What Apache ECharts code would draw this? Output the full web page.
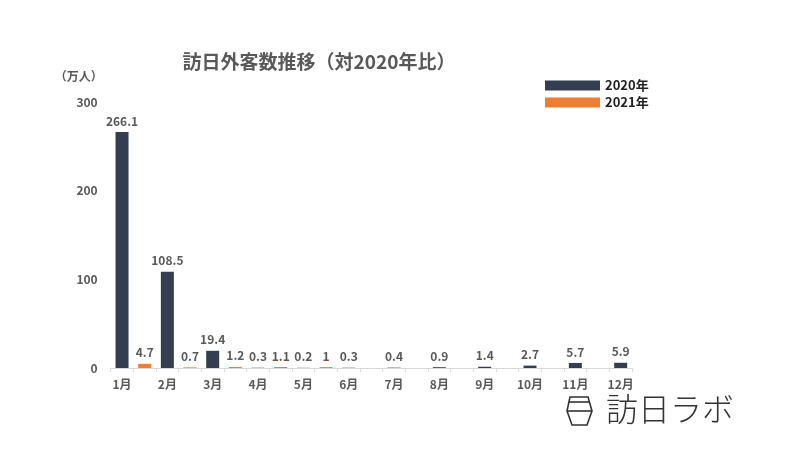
<!DOCTYPE html>
<html><head><meta charset="utf-8">
<script src="https://cdn.jsdelivr.net/npm/echarts@6/dist/echarts.min.js"></script>
<style>html,body{margin:0;background:#fff}#c{width:800px;height:450px}</style>
</head><body><div id="c"></div>
<script>
const months = ['1月','2月','3月','4月','5月','6月','7月','8月','9月','10月','11月','12月'];
const values2020 = [266.1,108.5,19.4,0.3,0.2,0.3,0.4,0.9,1.4,2.7,5.7,5.9];
const values2021 = [4.7,0.7,1.2,1.1,1,null,null,null,null,null,null];
const yTicks = [0,100,200,300];

const slots = [], s2020 = [], s2021 = [];
months.forEach((m, i) => {
  slots.push(m); s2020.push(values2020[i]); s2021.push('-');
  if (i < values2021.length) {
    slots.push(m + ' 2021');
    s2020.push('-');
    s2021.push(values2021[i] == null ? '-' : values2021[i]);
  }
});

const FONT = '"Noto Sans CJK JP", "Noto Sans", sans-serif';
const TXT = '#595959';
const chart = echarts.init(document.getElementById('c'), null, {renderer: 'canvas'});
const labelStyle = {show: true, position: 'top', distance: 5, color: TXT, fontWeight: 'bold', fontSize: 12, fontFamily: FONT};
chart.setOption({
  backgroundColor: '#fff',
  animation: false,
  title: {
    text: '訪日外客数推移（対2020年比）',
    left: 314, top: 47, textAlign: 'center',
    textStyle: {color: TXT, fontSize: 19, fontWeight: 'bold', fontFamily: FONT}
  },
  legend: {
    orient: 'vertical', left: 540, top: 74, itemWidth: 55, itemHeight: 10, itemGap: 4,
    icon: 'rect',
    textStyle: {color: '#222', fontWeight: 'bold', fontSize: 13, fontFamily: FONT},
    data: ['2020年', '2021年']
  },
  grid: {left: 110.7, right: 168, top: 102, bottom: 82},
  xAxis: {
    type: 'category', data: slots,
    axisLine: {lineStyle: {color: '#d9d9d9'}},
    axisTick: {show: true, interval: 0, length: 4, lineStyle: {color: '#d9d9d9'}},
    axisLabel: {interval: 1, color: TXT, fontWeight: 'bold', fontSize: 12, fontFamily: FONT, margin: 10}
  },
  yAxis: {
    type: 'value', min: yTicks[0], max: yTicks[yTicks.length - 1], interval: 100,
    name: '（万人）', nameLocation: 'end', nameGap: 20,
    nameTextStyle: {color: TXT, fontWeight: 'bold', fontSize: 12, fontFamily: FONT, align: 'right', padding: [0, 8, 0, 0]},
    axisLine: {show: false}, axisTick: {show: false},
    splitLine: {show: false},
    axisLabel: {color: TXT, fontWeight: 'bold', fontSize: 12, fontFamily: FONT, margin: 13}
  },
  series: [
    {name: '2020年', type: 'bar', data: s2020, barWidth: 13, barGap: '-100%',
     itemStyle: {color: '#333F50'}, label: labelStyle},
    {name: '2021年', type: 'bar', data: s2021, barWidth: 13, barGap: '-100%',
     itemStyle: {color: '#ED7D31'}, label: labelStyle}
  ],
  graphic: [
    {type: 'polygon', shape: {points: [[570,397],[588,397],[592,411],[587,425],[572,425],[567,411]]},
     style: {fill: 'none', stroke: '#333', lineWidth: 1.6}},
    {type: 'line', shape: {x1: 567, y1: 411, x2: 592, y2: 411}, style: {stroke: '#333', lineWidth: 1.6}},
    {type: 'line', shape: {x1: 569, y1: 402, x2: 590, y2: 402}, style: {stroke: '#333', lineWidth: 1.6}},
    {type: 'text', left: 606, top: 393,
     style: {text: '訪日ラボ', fill: '#333', fontSize: 32, fontWeight: 300, fontFamily: FONT}}
  ]
});
</script></body></html>
